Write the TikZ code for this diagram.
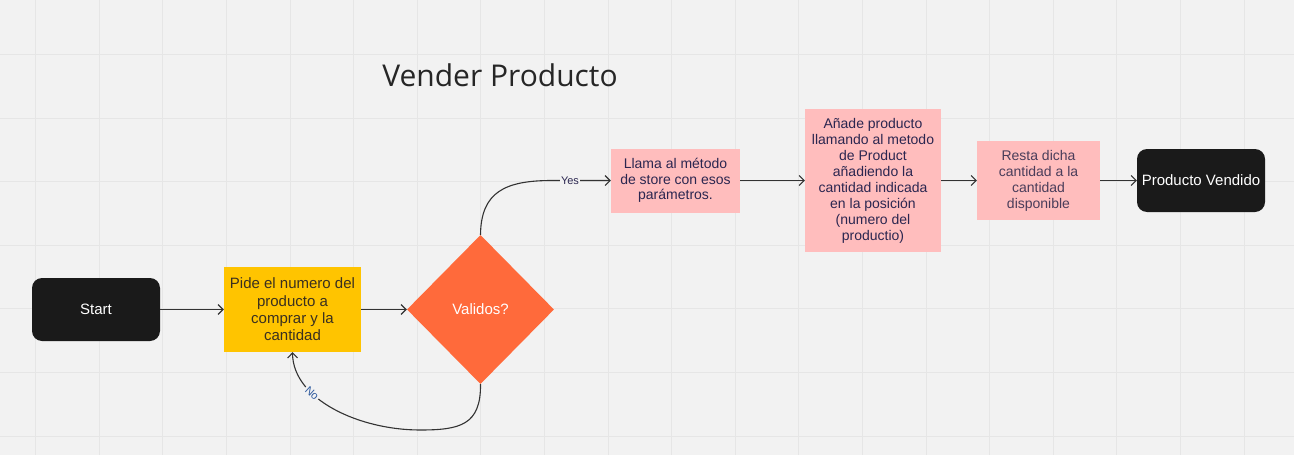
\documentclass[tikz,border=0pt]{standalone}
\usepackage{fontspec}
\setmainfont{Liberation Sans}
\newfontfamily\titlefont{Open Sans}
\usetikzlibrary{shapes.geometric,arrows.meta}
\definecolor{bgc}{HTML}{F2F2F2}
\definecolor{gridc}{HTML}{E6E6E6}
\definecolor{darkbox}{HTML}{1A1A1A}
\definecolor{yel}{HTML}{FFC400}
\definecolor{orng}{HTML}{FF6A3B}
\definecolor{pnk}{HTML}{FFBDBD}
\definecolor{navy}{HTML}{2B2650}
\definecolor{pgray}{HTML}{4A3D5A}
\definecolor{ytext}{HTML}{3A3020}
\definecolor{linec}{HTML}{333333}
\definecolor{nocol}{HTML}{2F5A9E}
\begin{document}
\begin{tikzpicture}[x=1pt,y=-1pt,
  txt/.style={inner sep=0pt, align=center, font=\fontsize{14}{16}\selectfont},
  darknode/.style={txt, fill=darkbox, rounded corners=10pt, text=white, font=\fontsize{15}{17}\selectfont},
  pinkbox/.style={txt, fill=pnk, text=navy},
  arr/.style={draw=linec, line width=1.1pt, -{Straight Barb[length=5pt,width=10pt]}},
  lbl/.style={fill=bgc, inner sep=1.5pt, font=\fontsize{11}{13}\selectfont}
]
\useasboundingbox (0,0) rectangle (1294,455);
\fill[bgc] (0,0) rectangle (1294,455);
\foreach \i in {0,...,19} \draw[gridc, line width=1pt] ({35.6+63.6*\i},0) -- ++(0,455);
\foreach \j in {0,...,6} \draw[gridc, line width=1pt] (0,{54.4+63.6*\j}) -- ++(1294,0);

\node[font=\titlefont\fontsize{30}{36}\selectfont, text=black!85] (title) at (500,75) {Vender Producto};

\node[darknode, minimum width=128pt, minimum height=63pt] (start) at (96,309.5) {Start};
\node[txt, fill=yel, text=ytext, minimum width=137pt, minimum height=85pt, font=\fontsize{15}{17.3}\selectfont] (ask) at (292.5,309.5) {Pide el numero del\\producto a\\comprar y la\\cantidad};
\node[diamond, aspect=0.987, fill=orng, minimum width=147pt, minimum height=149pt, inner sep=0pt, text=white, font=\fontsize{15}{17}\selectfont] (dia) at (480.5,309.5) {Validos?};
\node[pinkbox, minimum width=129pt, minimum height=64pt, font=\fontsize{14}{15.5}\selectfont] (p1) at (675.5,180.5) {Llama al método\\de store con esos\\parámetros.};
\node[pinkbox, minimum width=136pt, minimum height=143pt] (p2) at (873,180.5) {Añade producto\\llamando al metodo\\de Product\\añadiendo la\\cantidad indicada\\en la posición\\(numero del\\productio)};
\node[pinkbox, text=pgray, minimum width=123pt, minimum height=79pt] (p3) at (1038.5,180.5) {Resta dicha\\cantidad a la\\cantidad\\disponible};
\node[darknode, minimum width=128pt, minimum height=63pt] (pv) at (1201,180.5) {Producto Vendido};

\coordinate (yc) at (552,180.5);
\coordinate (nb) at (420,430);

\draw[arr] (start) -- (ask);
\draw[arr] (ask) -- (dia);
\draw[arr] (dia.north) .. controls (481,192) and (505,180.5) .. (yc) -- (p1.west);
\node[lbl, text=navy] (yes) at (570,180.5) {Yes};
\draw[arr] (dia.south) .. controls (481,425) and (460,430) .. (nb) .. controls (360,430) and (293,400) .. (ask.south);
\node[lbl, text=nocol, rotate=-42] (no) at (312,393) {No};
\draw[arr] (p1) -- (p2);
\draw[arr] (p2) -- (p3);
\draw[arr] (p3) -- (pv);
\end{tikzpicture}
\end{document}
